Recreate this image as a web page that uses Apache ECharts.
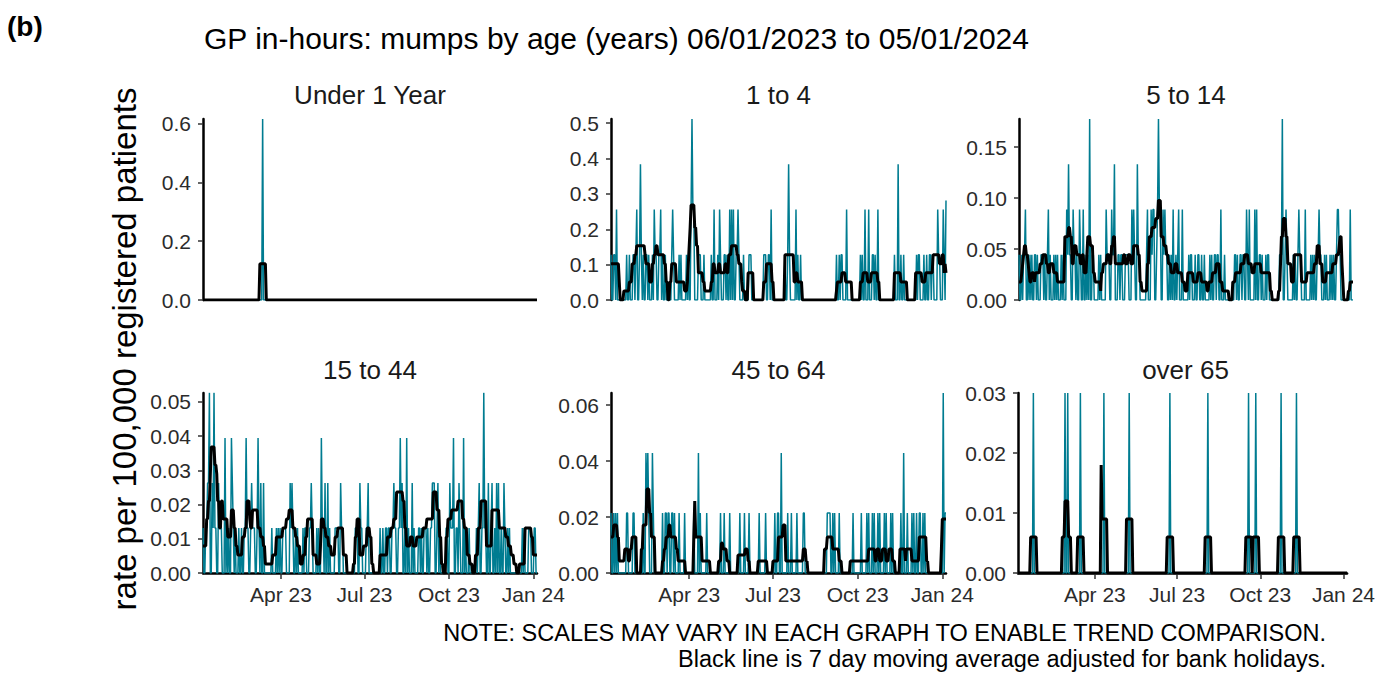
<!DOCTYPE html>
<html>
<head>
<meta charset="utf-8">
<script src="https://cdn.jsdelivr.net/npm/echarts@6/dist/echarts.min.js"></script>
<style>
  html, body { margin: 0; padding: 0; background: #fff; }
  #chart { width: 1378px; height: 675px; }
</style>
</head>
<body>
<div id="chart"></div>
<script>
// one value per day, 06/01/2023 (Fri) .. 05/01/2024 (Fri)
// first row Fri-Sun, then one row per week Mon..Sun, last row Mon..Fri
// *Cases = daily count of consultations, *Avg = 7 day moving total (black line)

const u1Cases = [
0,0,0,
0,0,0,0,0,0,0,
0,0,0,0,0,0,0,
0,0,0,0,0,0,0,
0,0,0,0,0,0,0,
0,0,0,0,0,0,0,
0,0,0,0,0,0,0,
0,0,0,0,0,0,0,
0,0,0,0,0,0,0,
0,0,0,0,0,0,1,
0,0,0,0,0,0,0,
0,0,0,0,0,0,0,
0,0,0,0,0,0,0,
0,0,0,0,0,0,0,
0,0,0,0,0,0,0,
0,0,0,0,0,0,0,
0,0,0,0,0,0,0,
0,0,0,0,0,0,0,
0,0,0,0,0,0,0,
0,0,0,0,0,0,0,
0,0,0,0,0,0,0,
0,0,0,0,0,0,0,
0,0,0,0,0,0,0,
0,0,0,0,0,0,0,
0,0,0,0,0,0,0,
0,0,0,0,0,0,0,
0,0,0,0,0,0,0,
0,0,0,0,0,0,0,
0,0,0,0,0,0,0,
0,0,0,0,0,0,0,
0,0,0,0,0,0,0,
0,0,0,0,0,0,0,
0,0,0,0,0,0,0,
0,0,0,0,0,0,0,
0,0,0,0,0,0,0,
0,0,0,0,0,0,0,
0,0,0,0,0,0,0,
0,0,0,0,0,0,0,
0,0,0,0,0,0,0,
0,0,0,0,0,0,0,
0,0,0,0,0,0,0,
0,0,0,0,0,0,0,
0,0,0,0,0,0,0,
0,0,0,0,0,0,0,
0,0,0,0,0,0,0,
0,0,0,0,0,0,0,
0,0,0,0,0,0,0,
0,0,0,0,0,0,0,
0,0,0,0,0,0,0,
0,0,0,0,0,0,0,
0,0,0,0,0,0,0,
0,0,0,0,0,0,0,
0,0,0,0,0
];
const u1Avg = [
0,0,0,
0,0,0,0,0,0,0,
0,0,0,0,0,0,0,
0,0,0,0,0,0,0,
0,0,0,0,0,0,0,
0,0,0,0,0,0,0,
0,0,0,0,0,0,0,
0,0,0,0,0,0,0,
0,0,0,0,0,0,0,
0,0,0,1,1,1,1,
1,1,1,0,0,0,0,
0,0,0,0,0,0,0,
0,0,0,0,0,0,0,
0,0,0,0,0,0,0,
0,0,0,0,0,0,0,
0,0,0,0,0,0,0,
0,0,0,0,0,0,0,
0,0,0,0,0,0,0,
0,0,0,0,0,0,0,
0,0,0,0,0,0,0,
0,0,0,0,0,0,0,
0,0,0,0,0,0,0,
0,0,0,0,0,0,0,
0,0,0,0,0,0,0,
0,0,0,0,0,0,0,
0,0,0,0,0,0,0,
0,0,0,0,0,0,0,
0,0,0,0,0,0,0,
0,0,0,0,0,0,0,
0,0,0,0,0,0,0,
0,0,0,0,0,0,0,
0,0,0,0,0,0,0,
0,0,0,0,0,0,0,
0,0,0,0,0,0,0,
0,0,0,0,0,0,0,
0,0,0,0,0,0,0,
0,0,0,0,0,0,0,
0,0,0,0,0,0,0,
0,0,0,0,0,0,0,
0,0,0,0,0,0,0,
0,0,0,0,0,0,0,
0,0,0,0,0,0,0,
0,0,0,0,0,0,0,
0,0,0,0,0,0,0,
0,0,0,0,0,0,0,
0,0,0,0,0,0,0,
0,0,0,0,0,0,0,
0,0,0,0,0,0,0,
0,0,0,0,0,0,0,
0,0,0,0,0,0,0,
0,0,0,0,0,0,0,
0,0,0,0,0,0,0,
0,0,0,0,0
];

const y1to4Cases = [
1,0,0,
1,1,0,2,0,0,0,
0,0,0,0,0,0,0,
1,0,0,1,0,0,0,
1,1,0,1,2,0,0,
1,3,1,0,1,0,0,
1,1,0,1,0,0,0,
1,0,2,1,1,0,0,
1,1,2,0,1,0,0,
1,0,0,0,0,0,0,
1,2,1,0,0,0,0,
0,1,0,1,0,0,0,
0,0,1,0,1,0,0,
2,4,2,2,0,0,0,
0,1,1,1,0,0,0,
1,0,0,0,0,0,0,
0,1,0,0,2,0,0,
0,1,0,2,1,0,0,
0,1,1,0,1,0,0,
2,0,2,0,2,0,0,
1,1,2,1,0,0,0,
0,1,0,0,0,0,0,
1,1,1,0,0,0,0,
0,0,0,0,0,0,0,
0,0,1,1,1,0,0,
1,1,0,2,0,0,0,
0,0,0,0,0,0,0,
0,0,0,0,1,0,0,
1,3,1,0,0,0,0,
0,0,2,0,1,0,0,
1,0,0,0,0,0,0,
0,0,0,0,0,0,0,
0,0,0,0,0,0,0,
0,0,0,0,0,0,0,
0,0,0,0,0,0,0,
0,0,0,0,1,0,0,
1,0,1,1,0,0,0,
0,2,0,0,0,0,0,
0,0,0,0,0,0,0,
0,0,1,0,1,0,0,
2,0,0,0,2,0,0,
0,1,1,0,1,0,0,
2,0,0,0,0,0,0,
0,0,0,0,0,0,0,
0,0,0,0,1,0,0,
0,3,0,0,1,0,0,
1,0,0,0,0,0,0,
0,0,0,0,0,0,0,
1,0,1,1,0,0,0,
0,1,0,0,1,0,0,
1,1,0,1,1,0,0,
0,0,2,1,1,0,0,
0,2,1,0,2.2
];
const y1to4Avg = [
4,4,4,
4,4,4,4,4,4,2,
0,0,0,0,1,1,1,
1,1,1,2,2,2,4,
4,4,5,5,6,6,6,
6,6,6,6,6,6,5,
4,4,4,4,2,2,2,
4,4,5,5,6,6,5,
5,5,5,5,5,5,4,
4,2,2,0,0,2,2,
4,4,4,4,4,2,2,
2,2,2,2,2,2,2,
1,1,1,2,4,6,8,
10.5,10.5,10.5,10.5,8,8,6,
6,3,3,3,3,3,2,
2,1,1,1,1,1,1,
1,2,2,4,4,3,3,
3,3,4,4,3,3,3,
3,3,4,4,3,3,5,
5,5,6,6,6,6,6,
6,5,5,4,4,4,2,
1,1,1,0,0,0,3,
3,3,3,3,3,0,0,
0,0,0,0,0,0,0,
0,0,2,2,2,4,4,
4,4,4,4,2,2,0,
0,0,0,0,0,0,0,
0,0,0,0,5,5,5,
5,5,5,5,5,5,5,
2,2,3,3,2,2,2,
2,2,0,0,0,0,0,
0,0,0,0,0,0,0,
0,0,0,0,0,0,0,
0,0,0,0,0,0,0,
0,0,0,0,0,0,0,
0,0,0,0,1,2,2,
2,2,2,3,3,3,3,
2,2,2,2,2,2,2,
0,0,0,0,0,0,0,
0,0,2,2,2,3,3,
3,3,3,2,2,2,2,
3,3,3,3,3,3,3,
2,2,0,0,0,0,0,
0,0,0,0,0,0,0,
0,0,0,0,3,3,3,
3,3,3,3,2,2,2,
2,2,2,2,0,0,0,
0,0,0,0,0,0,3,
3,3,3,3,3,3,2,
2,2,2,3,3,3,3,
3,3,3,3,5,5,5,
5,5,5,5,4,4,4,
5,5,3,4,3
];

const y5to14Cases = [
1,0,0,
1,0,1,1,2,0,0,
1,0,1,0,1,0,0,
1,1,0,1,0,0,0,
1,1,1,0,1,0,0,
1,2,0,1,0,0,0,
1,0,1,0,1,0,0,
0,1,0,1,0,0,0,
2,1,3,1,1,0,0,
2,1,1,0,1,0,0,
2,1,0,0,2,0,0,
1,0,1,0,4,0,0,
1,1,0,0,0,0,0,
1,0,1,0,0,0,0,
0,2,1,1,1,0,0,
2,1,1,3,0,0,0,
1,1,0,1,1,0,0,
0,1,1,1,1,0,0,
0,2,1,2,1,0,0,
3,1,1,0,0,0,0,
0,0,0,1,2,0,0,
0,2,1,2,2,0,0,
1,2,4,2,2,0,0,
2,1,2,1,1,0,0,
1,0,1,0,2,0,0,
1,0,1,2,0,0,0,
2,0,0,0,0,0,0,
1,0,1,1,0,0,0,
1,0,0,1,1,0,0,
1,0,0,1,0,0,0,
0,0,1,0,1,0,0,
1,1,0,1,1,0,0,
2,0,0,0,1,0,0,
0,0,0,0,0,0,0,
0,1,1,0,1,0,0,
1,1,0,1,1,0,0,
2,1,0,2,0,0,0,
0,0,2,0,2,0,0,
1,1,0,1,0,0,0,
1,0,1,1,0,0,0,
0,0,0,0,0,0,0,
0,1,1,1,4,0,0,
1,2,1,0,0,0,0,
0,0,1,0,1,0,0,
1,2,1,1,0,0,0,
0,2,0,0,0,0,0,
1,0,1,0,1,0,0,
1,1,2,1,1,0,0,
0,1,0,1,0,0,0,
1,0,1,0,1,0,0,
1,2,2,1,1,0,0,
0,0,0,0,0,0,0,
0,2,0,0,0
];
const y5to14Avg = [
2,2,2,
3,4,5,6,6,5,5,
4,3,2,2,3,3,3,
2,3,3,3,3,3,4,
4,4,5,5,5,5,4,
4,3,3,4,4,4,4,
3,3,3,3,2,2,2,
2,2,2,2,2,7,7,
7,7,8,8,7,7,4,
4,6,6,6,5,5,5,
5,4,4,5,5,3,3,
3,5,7,7,7,6,6,
6,3,3,2,2,2,2,
2,2,1,3,3,4,4,
4,4,5,5,5,4,4,
6,6,7,7,4,4,4,
4,4,4,4,4,4,5,
5,4,4,4,5,5,5,
4,4,4,6,6,6,6,
6,5,5,2,2,1,1,
1,1,1,1,4,4,7,
7,7,8,8,8,8,9,
9,9,11,11,11,7,7,
7,6,6,6,5,5,4,
4,4,3,3,3,3,4,
4,4,3,3,3,3,3,
2,2,2,1,1,1,3,
3,3,3,3,3,2,2,
2,2,2,3,3,3,3,
2,2,2,2,2,2,1,
1,2,2,2,2,3,3,
3,3,4,4,4,4,2,
2,2,1,1,1,1,1,
1,1,0,0,0,0,2,
2,2,3,3,3,3,3,
3,4,4,4,4,5,5,
5,5,4,4,4,4,3,
3,3,4,4,4,4,4,
4,4,3,3,3,3,3,
3,3,3,3,3,1,1,
0,0,0,0,0,0,0,
1,1,4,7,7,9,9,
9,7,7,4,4,4,4,
2,2,2,5,5,5,5,
5,5,5,5,2,2,2,
2,2,2,3,3,3,3,
3,3,3,3,4,4,4,
6,6,6,4,4,4,2,
2,2,2,3,3,3,3,
3,3,3,4,4,4,4,
5,5,5,6,7,7,4,
2,0,0,0,0,0,1,
1,2,2,2,2
];

const y15to44Cases = [
1,0,0,
1,1,2,2,4,0,0,
2,1,4,1,1,0,0,
2,1,1,1,0,0,0,
3,0,1,0,1,0,0,
3,2,1,0,1,0,0,
0,1,0,0,1,0,0,
1,1,3,1,1,0,0,
1,2,1,1,1,0,0,
1,3,1,0,2,0,0,
2,0,0,0,0,0,0,
0,0,1,0,0,0,0,
1,0,1,0,1,0,0,
1,1,1,1,0,0,0,
0,2,1,2,1,0,0,
1,0,1,0,0,0,0,
0,1,0,1,1,0,0,
0,1,1,2,1,0,0,
0,0,1,0,1,0,0,
3,1,1,0,2,0,0,
2,0,1,0,0,0,0,
0,1,1,1,1,0,0,
2,1,1,0,0,0,0,
0,0,0,0,0,0,0,
0,0,1,1,1,0,0,
2,1,1,0,0,0,0,
1,1,2,0,0,0,0,
0,0,0,0,0,0,0,
0,1,0,0,1,0,0,
1,1,0,1,1,0,0,
1,1,2,1,1,0,0,
1,1,3,1,2,0,0,
1,0,3,0,1,0,0,
0,2,0,1,0,0,0,
0,1,1,0,1,0,0,
1,1,1,0,1,0,0,
1,1,2,2,2,0,0,
1,2,0,1,0,0,0,
0,0,0,1,1,0,0,
2,1,1,1,3,0,0,
1,1,0,2,1,0,0,
0,3,0,1,0,0,0,
1,0,0,0,0,0,0,
0,1,0,1,2,0,0,
1,1,4,1,1,0,0,
2,0,0,1,2,0,0,
1,0,2,0,2,0,0,
1,0,0,2,1,0,0,
1,0,1,0,0,0,0,
0,0,0,0,0,0,0,
0,0,1,0,1,0,0,
0,0,1,1,1,0,0,
0,1,1,0,0
];
const y15to44Avg = [
3,3,3,
3,6,6,8,8,11,14,
14,14,14,12,12,11,8,
8,5,5,8,8,6,6,
6,6,6,4,4,4,4,
7,7,7,5,5,3,3,
2,2,2,2,2,4,4,
4,5,5,8,8,8,6,
5,5,7,7,7,7,7,
7,5,5,5,4,4,4,
3,3,1,1,1,1,1,
1,1,1,2,2,2,2,
4,4,4,4,4,4,4,
5,5,5,5,6,6,6,
7,7,7,7,5,5,5,
4,4,3,3,3,1,1,
1,2,2,2,4,4,6,
6,6,6,6,6,2,2,
2,2,1,1,1,1,3,
6,6,6,5,5,4,4,
4,3,3,3,2,2,2,
2,4,4,4,5,5,5,
5,5,5,2,2,2,2,
0,0,0,0,0,0,0,
1,1,4,4,6,6,6,
2,2,2,2,3,3,3,
3,5,5,5,4,4,1,
1,0,0,0,0,0,0,
0,2,2,2,2,2,2,
2,2,4,4,4,4,5,
5,5,6,6,6,9,9,
9,9,9,9,9,8,8,
5,5,3,3,3,3,4,
4,4,3,3,3,3,4,
4,4,4,4,4,4,5,
5,5,5,6,6,6,6,
6,6,6,9,9,9,9,
7,7,7,4,4,1,1,
0,0,0,4,4,6,6,
6,6,7,7,7,7,7,
7,7,8,8,8,8,8,
6,6,5,5,5,2,2,
2,1,1,1,0,0,0,
2,2,2,5,5,5,8,
8,8,8,8,8,3,3,
3,3,3,3,7,7,7,
7,7,7,7,7,5,5,
5,5,5,5,5,4,4,
4,3,3,3,2,2,2,
1,1,1,0,0,0,1,
1,1,1,1,1,5,5,
5,5,5,5,5,4,4,
2,2,2,2,2
];

const y45to64Cases = [
1,0,0,
1,0,1,0,1,0,0,
0,0,0,0,0,0,0,
1,1,0,0,0,0,0,
1,1,0,0,0,0,0,
0,0,0,0,1,0,0,
2,1,2,1,0,0,0,
2,1,0,0,0,0,0,
0,0,0,0,1,0,0,
1,1,0,1,1,0,0,
1,1,0,1,0,0,0,
0,1,0,0,0,0,0,
1,0,0,0,0,0,0,
0,0,0,1,0,0,0,
0,2,0,1,0,0,0,
0,0,0,1,0,0,0,
0,0,0,0,0,0,0,
0,0,0,0,1,0,0,
0,1,0,0,0,0,0,
1,0,0,0,0,0,0,
0,0,0,0,1,0,0,
0,0,1,0,0,0,0,
1,0,0,0,0,0,0,
0,0,0,0,1,0,0,
0,0,0,0,1,0,0,
0,0,0,0,0,0,0,
1,0,0,1,1,0,0,
2,0,0,0,0,0,0,
1,0,0,0,1,0,0,
0,0,0,1,0,0,0,
0,0,0,1,1,0,0,
0,0,0,0,0,0,0,
0,0,0,0,0,0,0,
0,0,0,0,0,0,0,
0,1,1,1,1,0,0,
1,0,1,0,0,0,0,
1,0,0,0,0,0,0,
0,0,0,0,0,0,0,
0,1,0,0,0,0,0,
0,0,0,1,0,0,0,
0,0,1,0,1,0,0,
0,1,0,1,0,0,0,
1,0,1,0,0,0,0,
1,0,1,0,0,0,0,
1,0,1,0,0,0,0,
0,0,0,0,1,0,0,
2,0,0,0,1,0,0,
0,0,1,0,1,0,0,
1,0,0,1,1,0,0,
1,0,1,0,0,0,0,
0,0,0,0,0,0,0,
0,0,0,0,0,0,0,
0,3,0,1,1
];
const y45to64Avg = [
3,3,3,
4,4,4,4,3,3,1,
1,1,1,1,1,2,2,
2,2,1,1,2,2,3,
3,3,3,3,0,0,0,
0,0,2,2,4,4,4,
4,7,7,7,5,5,3,
3,3,3,0,0,0,0,
0,0,0,0,1,1,2,
2,3,3,3,4,4,3,
3,3,3,3,3,2,2,
1,1,1,1,1,1,1,
1,0,0,0,0,0,0,
0,0,0,3,6,3,3,
3,3,3,3,3,1,1,
1,1,1,1,1,1,1,
0,0,0,0,0,0,0,
0,0,1,1,1,2.5,2.5,
2,2,2,2,1,1,1,
0,0,0,0,0,0,0,
0,0,1.5,1.5,1.5,1.5,1.5,
1.5,1.5,1.5,2,2,2,1,
1,0,0,0,0,0,0,
0,0,0,1,1,1,1,
1,1,1,1,1,1,0,
0,0,0,0,0,1,1,
1,1,1,1,3,3,3,
3,3,4,4,4,1,1,
1,1,1,1,1,1,1,
1,1,1,1,1,1,1,
1,1,1,2,2,2,1,
1,0,0,0,0,0,0,
0,0,0,0,0,0,0,
0,0,0,0,0,2,2,
2,3,3,3,3,3,3,
2,2,2,2,2,2,2,
1,1,1,0,0,0,0,
0,0,0,0,0,1,1,
1,1,1,1,1,1,1,
1,1,1,1,1,1,1,
1,1,1,1,2,2,2,
2,2,2,2,1,1,2,
2,2,1,1,1,2,2,
2,2,1,1,1,2,2,
2,2,1,1,1,0,0,
0,0,0,2,2,2,2,
2,2,1,2,2,2,2,
2,2,1,1,1,1,1,
1,1,1,3,3,3,3,
3,3,3,3,1,1,0,
0,0,0,0,0,0,0,
0,0,0,0,0,0,2,
4.5,4.5,4.5,4.5,4.5
];

const over65Cases = [
0,0,0,
0,0,0,0,0,0,0,
0,0,0,0,0,0,0,
1,0,0,0,0,0,0,
0,0,0,0,0,0,0,
0,0,0,0,0,0,0,
0,0,0,0,0,0,0,
0,0,0,0,0,0,0,
1,0,0,1,0,0,0,
0,0,0,0,0,0,0,
0,0,0,1,0,0,0,
0,0,0,0,0,0,0,
0,0,0,0,0,0,0,
0,0,0,0,0,0,0,
0,1,0,0,0,0,0,
0,0,0,0,0,0,0,
0,0,0,0,0,0,0,
0,0,0,0,0,0,0,
0,1,0,0,0,0,0,
0,0,0,0,0,0,0,
0,0,0,0,0,0,0,
0,0,0,0,0,0,0,
0,0,0,0,0,0,0,
0,0,0,0,0,0,0,
0,0,0,0,1,0,0,
0,0,0,0,0,0,0,
0,0,0,0,0,0,0,
0,0,0,0,0,0,0,
0,0,0,0,0,0,0,
0,0,0,0,0,0,0,
0,0,0,0,1,0,0,
0,0,0,0,0,0,0,
0,0,0,0,0,0,0,
0,0,0,0,0,0,0,
0,0,0,0,0,0,0,
0,0,0,0,0,0,0,
0,0,0,0,0,0,0,
1,0,0,0,0,0,0,
0,1,0,0,0,0,0,
0,0,0,0,0,0,0,
0,0,0,0,0,0,0,
0,0,0,0,0,0,0,
0,1,0,0,0,0,0,
0,0,0,0,0,0,0,
0,0,0,0,1,0,0,
0,0,0,0,0,0,0,
0,0,0,0,0,0,0,
0,0,0,0,0,0,0,
0,0,0,0,0,0,0,
0,0,0,0,0,0,0,
0,0,0,0,0,0,0,
0,0,0,0,0,0,0,
0,0,0,0,0
];
const over65Avg = [
0,0,0,
0,0,0,0,0,0,0,
0,0,0,0,1,1,1,
1,1,1,1,0,0,0,
0,0,0,0,0,0,0,
0,0,0,0,0,0,0,
0,0,0,0,0,0,0,
0,0,0,0,1,1,1,
2,2,2,2,1,1,1,
0,0,0,0,0,0,0,
1,1,1,1,1,1,1,
0,0,0,0,0,0,0,
0,0,0,0,0,0,0,
0,0,0,0,0,3,1.5,
1.5,1.5,1.5,1.5,1.5,0,0,
0,0,0,0,0,0,0,
0,0,0,0,0,0,0,
0,0,0,0,0,1.5,1.5,
1.5,1.5,1.5,1.5,1.5,0,0,
0,0,0,0,0,0,0,
0,0,0,0,0,0,0,
0,0,0,0,0,0,0,
0,0,0,0,0,0,0,
0,0,0,0,0,0,0,
0,1,1,1,1,1,1,
1,0,0,0,0,0,0,
0,0,0,0,0,0,0,
0,0,0,0,0,0,0,
0,0,0,0,0,0,0,
0,0,0,0,0,0,0,
0,1,1,1,1,1,1,
1,0,0,0,0,0,0,
0,0,0,0,0,0,0,
0,0,0,0,0,0,0,
0,0,0,0,0,0,0,
0,0,0,0,0,0,0,
0,0,0,0,1,1,1,
1,1,1,1,0,1,1,
1,1,1,1,1,0,0,
0,0,0,0,0,0,0,
0,0,0,0,0,0,0,
0,0,0,0,0,1,1,
1,1,1,1,1,0,0,
0,0,0,0,0,0,0,
0,1,1,1,1,1,1,
1,0,0,0,0,0,0,
0,0,0,0,0,0,0,
0,0,0,0,0,0,0,
0,0,0,0,0,0,0,
0,0,0,0,0,0,0,
0,0,0,0,0,0,0,
0,0,0,0,0,0,0,
0,0,0,0,0
];

const panelNames = ['Under 1 Year', '1 to 4', '5 to 14', '15 to 44', '45 to 64', 'over 65'];
// rate per 100,000 for a single consultation in each age band
const ratePerCase = [0.615, 0.128, 0.0444, 0.01316, 0.02143, 0.03];
const yMax = [0.615, 0.512, 0.1776, 0.0526, 0.0643, 0.03];
const yTicks = [
  [0, 0.2, 0.4, 0.6],
  [0, 0.1, 0.2, 0.3, 0.4, 0.5],
  [0, 0.05, 0.1, 0.15],
  [0, 0.01, 0.02, 0.03, 0.04, 0.05],
  [0, 0.02, 0.04, 0.06],
  [0, 0.01, 0.02, 0.03]
];
const yDecimals = [1, 1, 2, 2, 2, 2];
const xTickDates = [[2023, 3, 1], [2023, 6, 1], [2023, 9, 1], [2024, 0, 1]];
const monthNames = ['Jan', 'Feb', 'Mar', 'Apr', 'May', 'Jun', 'Jul', 'Aug', 'Sep', 'Oct', 'Nov', 'Dec'];

const allCases = [u1Cases, y1to4Cases, y5to14Cases, y15to44Cases, y45to64Cases, over65Cases];
const allAvg = [u1Avg, y1to4Avg, y5to14Avg, y15to44Avg, y45to64Avg, over65Avg];

const FONT = '"Liberation Sans", Arial, sans-serif';
const TEAL = '#007c91';

// plot areas: [left, top, width, height]
const boxes = [
  [203, 119, 334, 181],
  [611, 119, 335, 181],
  [1019, 119, 334, 181],
  [203, 393, 334, 180],
  [611, 393, 335, 180],
  [1018, 393, 335, 180]
];

const days = u1Cases.map((v, i) => new Date(2023, 0, 6 + i).getTime());
const xTicks = xTickDates.map(d => new Date(d[0], d[1], d[2]).getTime());

const fmtMonth = v => {
  const d = new Date(v);
  return monthNames[d.getMonth()] + ' ' + String(d.getFullYear()).slice(2);
};

const grid = boxes.map(b => ({ left: b[0], top: b[1], width: b[2], height: b[3] }));

const xAxis = boxes.map((b, i) => {
  const bottom = i >= 3;
  return {
    type: 'value',
    gridIndex: i,
    min: days[0],
    max: days[days.length - 1],
    axisLine: { show: bottom, lineStyle: { color: '#000', width: 2.5 } },
    axisTick: { show: bottom, customValues: xTicks, length: 6, lineStyle: { color: '#333', width: 1.5 } },
    axisLabel: {
      show: bottom, customValues: xTicks, formatter: fmtMonth,
      color: '#2b2b2b', fontFamily: FONT, fontSize: 21, margin: 11
    },
    splitLine: { show: false }
  };
});

const yAxis = boxes.map((b, i) => ({
  type: 'value',
  gridIndex: i,
  min: 0,
  max: yMax[i],
  axisLine: { show: true, lineStyle: { color: '#000', width: 2.5 } },
  axisTick: { show: true, customValues: yTicks[i], length: 5, lineStyle: { color: '#333', width: 1.5 } },
  axisLabel: {
    customValues: yTicks[i], formatter: v => v.toFixed(yDecimals[i]),
    color: '#2b2b2b', fontFamily: FONT, fontSize: 21, margin: 12
  },
  splitLine: { show: false }
}));

const series = [];
allCases.forEach((cases, i) => {
  series.push({
    type: 'line', xAxisIndex: i, yAxisIndex: i,
    data: cases.map((c, j) => [days[j], c * ratePerCase[i]]),
    symbol: 'none', silent: true, z: 2,
    lineStyle: { color: TEAL, width: 1.5 }
  });
  series.push({
    type: 'line', xAxisIndex: i, yAxisIndex: i,
    data: allAvg[i].map((a, j) => [days[j], a * ratePerCase[i] / 5]),
    symbol: 'none', silent: true, z: 3,
    lineStyle: { color: '#000', width: 3 }
  });
});

const text = (x, y, str, size, extra) => ({
  type: 'text', x: x, y: y, silent: true,
  style: Object.assign({
    text: str, fill: '#1a1a1a', font: size + 'px ' + FONT,
    textAlign: 'center', textVerticalAlign: 'middle', align: 'center', verticalAlign: 'middle'
  }, extra || {})
});

const graphics = [
  text(7, 26, '(b)', 28, { font: 'bold 28px ' + FONT, fill: '#000', textAlign: 'left', align: 'left' }),
  text(204, 38, 'GP in-hours: mumps by age (years) 06/01/2023 to 05/01/2024', 30,
    { fill: '#000', textAlign: 'left', align: 'left' }),
  Object.assign(text(124, 349, 'rate per 100,000 registered patients', 33, { fill: '#000' }), { rotation: Math.PI / 2 }),
  text(1326, 633, 'NOTE: SCALES MAY VARY IN EACH GRAPH TO ENABLE TREND COMPARISON.', 23.5,
    { fill: '#000', textAlign: 'right', align: 'right' }),
  text(1326, 659, 'Black line is 7 day moving average adjusted for bank holidays.', 23.5,
    { fill: '#000', textAlign: 'right', align: 'right' })
];
boxes.forEach((b, i) => {
  graphics.push(text(b[0] + b[2] / 2, i < 3 ? 95 : 370, panelNames[i], 26));
});

const chart = echarts.init(document.getElementById('chart'), null, { renderer: 'svg' });
chart.setOption({
  animation: false,
  backgroundColor: '#fff',
  grid: grid,
  xAxis: xAxis,
  yAxis: yAxis,
  series: series,
  graphic: { elements: graphics }
});
</script>
</body>
</html>
